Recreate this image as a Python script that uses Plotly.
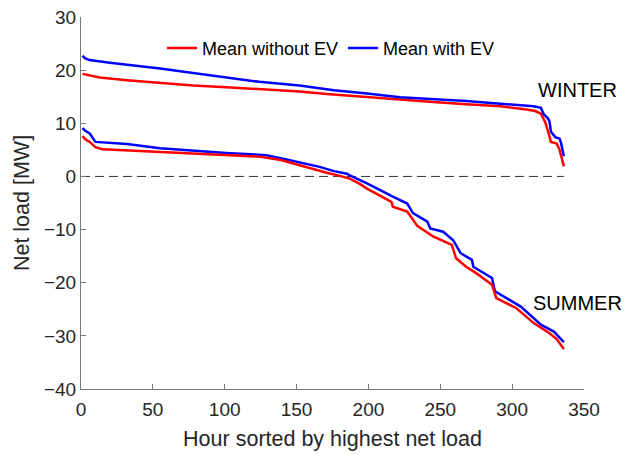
import plotly.graph_objects as go

# ---- data ----
winter_wo_x = [1, 6, 13, 32, 55, 78, 101, 124, 152, 171, 199, 222, 245, 268, 292, 310, 316, 320, 323, 325, 327, 331, 333, 336]
winter_wo_y = [19.3, 19.0, 18.6, 18.1, 17.6, 17.1, 16.8, 16.5, 16.0, 15.5, 14.9, 14.4, 14.0, 13.6, 13.2, 12.6, 12.3, 11.8, 10.2, 8.5, 6.5, 6.2, 5.0, 1.9]

winter_w_x = [1, 3, 6, 20, 55, 90, 124, 152, 176, 199, 222, 268, 300, 315, 320, 322, 325, 326, 327, 330, 333, 334, 336]
winter_w_y = [22.7, 22.2, 21.9, 21.4, 20.3, 19.0, 17.8, 17.1, 16.2, 15.6, 14.9, 14.2, 13.6, 13.2, 12.9, 11.7, 10.9, 10.3, 8.4, 7.4, 7.1, 6.3, 3.8]

summer_wo_x = [1, 3, 6, 8, 10, 15, 32, 78, 125, 139, 152, 157, 171, 180, 187, 194, 199, 216, 217, 227, 234, 245, 258, 261, 268, 275, 286, 289, 303, 315, 326, 331, 336]
summer_wo_y = [7.6, 7.0, 6.5, 6.0, 5.5, 5.1, 4.9, 4.3, 3.7, 3.1, 2.1, 1.8, 0.7, 0.1, -0.4, -1.4, -2.3, -4.8, -5.7, -6.6, -9.3, -11.3, -12.9, -15.4, -17.0, -18.2, -20.4, -22.9, -24.8, -27.6, -29.5, -30.6, -32.5]

summer_w_x = [1, 3, 6, 8, 10, 32, 55, 101, 129, 143, 152, 166, 176, 185, 187, 194, 199, 217, 227, 231, 241, 243, 252, 259, 264, 272, 273, 286, 288, 306, 320, 329, 332, 336]
summer_w_y = [9.1, 8.6, 8.1, 7.3, 6.5, 6.1, 5.3, 4.4, 4.0, 3.2, 2.7, 1.8, 1.0, 0.5, 0.2, -0.7, -1.3, -3.8, -5.1, -6.9, -8.5, -9.8, -10.4, -12.0, -14.4, -15.7, -17.0, -19.1, -21.6, -24.5, -27.9, -29.2, -30.0, -31.2]

zero_x = [0, 336]
zero_y = [0, 0]

x_ticks = [0, 50, 100, 150, 200, 250, 300, 350]
y_ticks = [-40, -30, -20, -10, 0, 10, 20, 30]

RED = "#ff0000"
BLUE = "#0000ff"
FONT = "Liberation Sans, Arial, Helvetica, sans-serif"
TXT = "#262626"
AX = "#7a7a7a"

fig = go.Figure()
fig.add_trace(go.Scatter(x=zero_x, y=zero_y, mode="lines", showlegend=False,
                         line=dict(color="#333333", width=1, dash="9px,5px"), hoverinfo="skip"))
fig.add_trace(go.Scatter(x=winter_wo_x, y=winter_wo_y, mode="lines", name="Mean without EV",
                         line=dict(color=RED, width=2.5)))
fig.add_trace(go.Scatter(x=winter_w_x, y=winter_w_y, mode="lines", name="Mean with EV",
                         line=dict(color=BLUE, width=2.5)))
fig.add_trace(go.Scatter(x=summer_w_x, y=summer_w_y, mode="lines", showlegend=False,
                         line=dict(color=BLUE, width=2.5)))
fig.add_trace(go.Scatter(x=summer_wo_x, y=summer_wo_y, mode="lines", showlegend=False,
                         line=dict(color=RED, width=2.5)))

fig.add_annotation(x=316.5, y=16.3, text="WINTER", showarrow=False, xanchor="left", yanchor="middle",
                   font=dict(family=FONT, size=20, color="#000000"))
fig.add_annotation(x=313, y=-23.9, text="SUMMER", showarrow=False, xanchor="left", yanchor="middle",
                   font=dict(family=FONT, size=20, color="#000000"))

fig.update_layout(
    width=636, height=455,
    margin=dict(l=81, r=52, t=17, b=66),
    paper_bgcolor="white", plot_bgcolor="white",
    font=dict(family=FONT, color=TXT),
    legend=dict(orientation="h", x=0.497, y=0.916, xanchor="center", yanchor="middle",
                bgcolor="rgba(0,0,0,0)", font=dict(family=FONT, size=18, color="#000000"),
                itemwidth=30),
    xaxis=dict(range=[0, 350], tickvals=x_ticks, showgrid=False, zeroline=False, automargin=False,
               showline=True, linecolor=AX, linewidth=1, ticks="inside", ticklen=5,
               tickcolor=AX, tickfont=dict(family=FONT, size=19, color=TXT), ticklabelstandoff=3,
               title=dict(text="Hour sorted by highest net load", font=dict(family=FONT, size=21.5, color=TXT), standoff=12)),
    yaxis=dict(range=[-40, 30], tickvals=y_ticks, showgrid=False, zeroline=False, automargin=False,
               showline=True, linecolor=AX, linewidth=1, ticks="inside", ticklen=5,
               tickcolor=AX, tickfont=dict(family=FONT, size=19, color=TXT),
               title=dict(text="Net load [MW]", font=dict(family=FONT, size=21.5, color=TXT), standoff=8)),
)

fig.write_html("out.html")
